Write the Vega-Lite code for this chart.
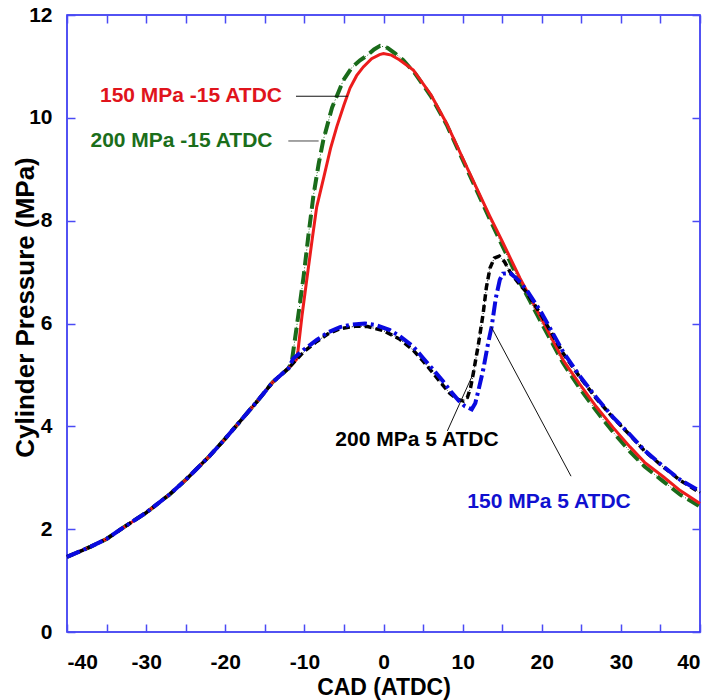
{
  "$schema": "https://vega.github.io/schema/vega-lite/v6.json",
  "width": 633,
  "height": 617,
  "autosize": {"type": "none"},
  "padding": {"left": 67, "top": 15, "right": 15, "bottom": 68},
  "background": "white",
  "config": {
    "view": {"stroke": "#1a1af0", "strokeWidth": 1.5},
    "font": "Liberation Sans",
    "axis": {
      "domain": false,
      "grid": false,
      "tickColor": "#4a4af5",
      "tickSize": -8,
      "tickWidth": 1.5,
      "labelFont": "Liberation Sans",
      "labelFontWeight": "bold",
      "labelFontSize": 21,
      "labelColor": "#000000",
      "titleFont": "Liberation Sans",
      "titleFontWeight": "bold",
      "titleFontSize": 23,
      "titleColor": "#000000"
    }
  },
  "datasets": {
    "curves": [
      {"series": "200 MPa -15 ATDC", "x": -40, "y": 1.46},
      {"series": "200 MPa -15 ATDC", "x": -37, "y": 1.66},
      {"series": "200 MPa -15 ATDC", "x": -35, "y": 1.81},
      {"series": "200 MPa -15 ATDC", "x": -33, "y": 2.02},
      {"series": "200 MPa -15 ATDC", "x": -30, "y": 2.32},
      {"series": "200 MPa -15 ATDC", "x": -27, "y": 2.68},
      {"series": "200 MPa -15 ATDC", "x": -25, "y": 2.96},
      {"series": "200 MPa -15 ATDC", "x": -22, "y": 3.42},
      {"series": "200 MPa -15 ATDC", "x": -20, "y": 3.76},
      {"series": "200 MPa -15 ATDC", "x": -18, "y": 4.12},
      {"series": "200 MPa -15 ATDC", "x": -16, "y": 4.48},
      {"series": "200 MPa -15 ATDC", "x": -14, "y": 4.86},
      {"series": "200 MPa -15 ATDC", "x": -12, "y": 5.13},
      {"series": "200 MPa -15 ATDC", "x": -11.6, "y": 5.25},
      {"series": "200 MPa -15 ATDC", "x": -11, "y": 5.9},
      {"series": "200 MPa -15 ATDC", "x": -10.1, "y": 6.91},
      {"series": "200 MPa -15 ATDC", "x": -9.5, "y": 7.7},
      {"series": "200 MPa -15 ATDC", "x": -8.87, "y": 8.47},
      {"series": "200 MPa -15 ATDC", "x": -8.2, "y": 9.1},
      {"series": "200 MPa -15 ATDC", "x": -7.6, "y": 9.57},
      {"series": "200 MPa -15 ATDC", "x": -6.5, "y": 10.2},
      {"series": "200 MPa -15 ATDC", "x": -5.08, "y": 10.73},
      {"series": "200 MPa -15 ATDC", "x": -4, "y": 10.98},
      {"series": "200 MPa -15 ATDC", "x": -2.97, "y": 11.12},
      {"series": "200 MPa -15 ATDC", "x": -2, "y": 11.22},
      {"series": "200 MPa -15 ATDC", "x": -1.2, "y": 11.33},
      {"series": "200 MPa -15 ATDC", "x": -0.44, "y": 11.4},
      {"series": "200 MPa -15 ATDC", "x": 0.5, "y": 11.36},
      {"series": "200 MPa -15 ATDC", "x": 1.5, "y": 11.25},
      {"series": "200 MPa -15 ATDC", "x": 2.5, "y": 11.12},
      {"series": "200 MPa -15 ATDC", "x": 4, "y": 10.86},
      {"series": "200 MPa -15 ATDC", "x": 6, "y": 10.42},
      {"series": "200 MPa -15 ATDC", "x": 8, "y": 9.86},
      {"series": "200 MPa -15 ATDC", "x": 10.5, "y": 9.02},
      {"series": "200 MPa -15 ATDC", "x": 13.46, "y": 8.02},
      {"series": "200 MPa -15 ATDC", "x": 15, "y": 7.52},
      {"series": "200 MPa -15 ATDC", "x": 17.25, "y": 6.8},
      {"series": "200 MPa -15 ATDC", "x": 18.5, "y": 6.44},
      {"series": "200 MPa -15 ATDC", "x": 20, "y": 6.0},
      {"series": "200 MPa -15 ATDC", "x": 22.7, "y": 5.23},
      {"series": "200 MPa -15 ATDC", "x": 24.8, "y": 4.74},
      {"series": "200 MPa -15 ATDC", "x": 26.9, "y": 4.3},
      {"series": "200 MPa -15 ATDC", "x": 29, "y": 3.89},
      {"series": "200 MPa -15 ATDC", "x": 31.15, "y": 3.51},
      {"series": "200 MPa -15 ATDC", "x": 33, "y": 3.22},
      {"series": "200 MPa -15 ATDC", "x": 35.36, "y": 2.93},
      {"series": "200 MPa -15 ATDC", "x": 37.5, "y": 2.67},
      {"series": "200 MPa -15 ATDC", "x": 40, "y": 2.44},

      {"series": "150 MPa -15 ATDC", "x": -40, "y": 1.46},
      {"series": "150 MPa -15 ATDC", "x": -37, "y": 1.66},
      {"series": "150 MPa -15 ATDC", "x": -35, "y": 1.81},
      {"series": "150 MPa -15 ATDC", "x": -33, "y": 2.02},
      {"series": "150 MPa -15 ATDC", "x": -30, "y": 2.32},
      {"series": "150 MPa -15 ATDC", "x": -27, "y": 2.68},
      {"series": "150 MPa -15 ATDC", "x": -25, "y": 2.96},
      {"series": "150 MPa -15 ATDC", "x": -22, "y": 3.42},
      {"series": "150 MPa -15 ATDC", "x": -20, "y": 3.76},
      {"series": "150 MPa -15 ATDC", "x": -18, "y": 4.12},
      {"series": "150 MPa -15 ATDC", "x": -16, "y": 4.48},
      {"series": "150 MPa -15 ATDC", "x": -14, "y": 4.86},
      {"series": "150 MPa -15 ATDC", "x": -12, "y": 5.13},
      {"series": "150 MPa -15 ATDC", "x": -11, "y": 5.3},
      {"series": "150 MPa -15 ATDC", "x": -10.8, "y": 5.48},
      {"series": "150 MPa -15 ATDC", "x": -10.3, "y": 6.15},
      {"series": "150 MPa -15 ATDC", "x": -9.7, "y": 6.85},
      {"series": "150 MPa -15 ATDC", "x": -9, "y": 7.65},
      {"series": "150 MPa -15 ATDC", "x": -8.44, "y": 8.27},
      {"series": "150 MPa -15 ATDC", "x": -7.52, "y": 8.86},
      {"series": "150 MPa -15 ATDC", "x": -6.7, "y": 9.4},
      {"series": "150 MPa -15 ATDC", "x": -5.9, "y": 9.83},
      {"series": "150 MPa -15 ATDC", "x": -5, "y": 10.25},
      {"series": "150 MPa -15 ATDC", "x": -4.23, "y": 10.58},
      {"series": "150 MPa -15 ATDC", "x": -3.4, "y": 10.82},
      {"series": "150 MPa -15 ATDC", "x": -2.55, "y": 10.99},
      {"series": "150 MPa -15 ATDC", "x": -1.5, "y": 11.15},
      {"series": "150 MPa -15 ATDC", "x": -0.5, "y": 11.23},
      {"series": "150 MPa -15 ATDC", "x": 0, "y": 11.25},
      {"series": "150 MPa -15 ATDC", "x": 1, "y": 11.22},
      {"series": "150 MPa -15 ATDC", "x": 2, "y": 11.13},
      {"series": "150 MPa -15 ATDC", "x": 3.77, "y": 10.93},
      {"series": "150 MPa -15 ATDC", "x": 6, "y": 10.45},
      {"series": "150 MPa -15 ATDC", "x": 7.98, "y": 9.89},
      {"series": "150 MPa -15 ATDC", "x": 10.5, "y": 9.05},
      {"series": "150 MPa -15 ATDC", "x": 13.46, "y": 8.08},
      {"series": "150 MPa -15 ATDC", "x": 15, "y": 7.6},
      {"series": "150 MPa -15 ATDC", "x": 17.25, "y": 6.88},
      {"series": "150 MPa -15 ATDC", "x": 18.5, "y": 6.52},
      {"series": "150 MPa -15 ATDC", "x": 20, "y": 6.08},
      {"series": "150 MPa -15 ATDC", "x": 22.7, "y": 5.29},
      {"series": "150 MPa -15 ATDC", "x": 24.8, "y": 4.82},
      {"series": "150 MPa -15 ATDC", "x": 26.9, "y": 4.38},
      {"series": "150 MPa -15 ATDC", "x": 29, "y": 3.98},
      {"series": "150 MPa -15 ATDC", "x": 31.15, "y": 3.6},
      {"series": "150 MPa -15 ATDC", "x": 33, "y": 3.3},
      {"series": "150 MPa -15 ATDC", "x": 35.36, "y": 3.02},
      {"series": "150 MPa -15 ATDC", "x": 37.5, "y": 2.75},
      {"series": "150 MPa -15 ATDC", "x": 40, "y": 2.5},

      {"series": "200 MPa 5 ATDC", "x": -40, "y": 1.46},
      {"series": "200 MPa 5 ATDC", "x": -37, "y": 1.66},
      {"series": "200 MPa 5 ATDC", "x": -35, "y": 1.81},
      {"series": "200 MPa 5 ATDC", "x": -33, "y": 2.02},
      {"series": "200 MPa 5 ATDC", "x": -30, "y": 2.32},
      {"series": "200 MPa 5 ATDC", "x": -27, "y": 2.68},
      {"series": "200 MPa 5 ATDC", "x": -25, "y": 2.96},
      {"series": "200 MPa 5 ATDC", "x": -22, "y": 3.42},
      {"series": "200 MPa 5 ATDC", "x": -20, "y": 3.76},
      {"series": "200 MPa 5 ATDC", "x": -18, "y": 4.12},
      {"series": "200 MPa 5 ATDC", "x": -16, "y": 4.48},
      {"series": "200 MPa 5 ATDC", "x": -14, "y": 4.86},
      {"series": "200 MPa 5 ATDC", "x": -12, "y": 5.13},
      {"series": "200 MPa 5 ATDC", "x": -11, "y": 5.3},
      {"series": "200 MPa 5 ATDC", "x": -10, "y": 5.46},
      {"series": "200 MPa 5 ATDC", "x": -8.44, "y": 5.65},
      {"series": "200 MPa 5 ATDC", "x": -7, "y": 5.8},
      {"series": "200 MPa 5 ATDC", "x": -5.5, "y": 5.9},
      {"series": "200 MPa 5 ATDC", "x": -3.4, "y": 5.95},
      {"series": "200 MPa 5 ATDC", "x": -2, "y": 5.94},
      {"series": "200 MPa 5 ATDC", "x": 0, "y": 5.86},
      {"series": "200 MPa 5 ATDC", "x": 2, "y": 5.7},
      {"series": "200 MPa 5 ATDC", "x": 3.77, "y": 5.48},
      {"series": "200 MPa 5 ATDC", "x": 5, "y": 5.27},
      {"series": "200 MPa 5 ATDC", "x": 6.3, "y": 5.03},
      {"series": "200 MPa 5 ATDC", "x": 7.5, "y": 4.8},
      {"series": "200 MPa 5 ATDC", "x": 8.4, "y": 4.64},
      {"series": "200 MPa 5 ATDC", "x": 9.3, "y": 4.53},
      {"series": "200 MPa 5 ATDC", "x": 10.1, "y": 4.49},
      {"series": "200 MPa 5 ATDC", "x": 10.6, "y": 4.56},
      {"series": "200 MPa 5 ATDC", "x": 11, "y": 4.75},
      {"series": "200 MPa 5 ATDC", "x": 11.35, "y": 5.03},
      {"series": "200 MPa 5 ATDC", "x": 12, "y": 5.6},
      {"series": "200 MPa 5 ATDC", "x": 12.6, "y": 6.2},
      {"series": "200 MPa 5 ATDC", "x": 13, "y": 6.7},
      {"series": "200 MPa 5 ATDC", "x": 13.46, "y": 7.08},
      {"series": "200 MPa 5 ATDC", "x": 14, "y": 7.27},
      {"series": "200 MPa 5 ATDC", "x": 14.64, "y": 7.31},
      {"series": "200 MPa 5 ATDC", "x": 15.3, "y": 7.2},
      {"series": "200 MPa 5 ATDC", "x": 16, "y": 7.0},
      {"series": "200 MPa 5 ATDC", "x": 17, "y": 6.8},
      {"series": "200 MPa 5 ATDC", "x": 18.1, "y": 6.6},
      {"series": "200 MPa 5 ATDC", "x": 20, "y": 6.15},
      {"series": "200 MPa 5 ATDC", "x": 22.7, "y": 5.42},
      {"series": "200 MPa 5 ATDC", "x": 24.8, "y": 4.96},
      {"series": "200 MPa 5 ATDC", "x": 26.9, "y": 4.54},
      {"series": "200 MPa 5 ATDC", "x": 29, "y": 4.17},
      {"series": "200 MPa 5 ATDC", "x": 31.15, "y": 3.83},
      {"series": "200 MPa 5 ATDC", "x": 33, "y": 3.52},
      {"series": "200 MPa 5 ATDC", "x": 35.36, "y": 3.21},
      {"series": "200 MPa 5 ATDC", "x": 37.5, "y": 2.95},
      {"series": "200 MPa 5 ATDC", "x": 40, "y": 2.71},

      {"series": "150 MPa 5 ATDC", "x": -40, "y": 1.46},
      {"series": "150 MPa 5 ATDC", "x": -37, "y": 1.66},
      {"series": "150 MPa 5 ATDC", "x": -35, "y": 1.81},
      {"series": "150 MPa 5 ATDC", "x": -33, "y": 2.02},
      {"series": "150 MPa 5 ATDC", "x": -30, "y": 2.32},
      {"series": "150 MPa 5 ATDC", "x": -27, "y": 2.68},
      {"series": "150 MPa 5 ATDC", "x": -25, "y": 2.96},
      {"series": "150 MPa 5 ATDC", "x": -22, "y": 3.42},
      {"series": "150 MPa 5 ATDC", "x": -20, "y": 3.76},
      {"series": "150 MPa 5 ATDC", "x": -18, "y": 4.12},
      {"series": "150 MPa 5 ATDC", "x": -16, "y": 4.48},
      {"series": "150 MPa 5 ATDC", "x": -14, "y": 4.86},
      {"series": "150 MPa 5 ATDC", "x": -12, "y": 5.13},
      {"series": "150 MPa 5 ATDC", "x": -11.4, "y": 5.32},
      {"series": "150 MPa 5 ATDC", "x": -10, "y": 5.5},
      {"series": "150 MPa 5 ATDC", "x": -8.44, "y": 5.68},
      {"series": "150 MPa 5 ATDC", "x": -7, "y": 5.83},
      {"series": "150 MPa 5 ATDC", "x": -5.5, "y": 5.93},
      {"series": "150 MPa 5 ATDC", "x": -4, "y": 5.98},
      {"series": "150 MPa 5 ATDC", "x": -2.34, "y": 6.0},
      {"series": "150 MPa 5 ATDC", "x": -1, "y": 5.97},
      {"series": "150 MPa 5 ATDC", "x": 0.82, "y": 5.87},
      {"series": "150 MPa 5 ATDC", "x": 2, "y": 5.76},
      {"series": "150 MPa 5 ATDC", "x": 3.77, "y": 5.55},
      {"series": "150 MPa 5 ATDC", "x": 5, "y": 5.33},
      {"series": "150 MPa 5 ATDC", "x": 6.3, "y": 5.1},
      {"series": "150 MPa 5 ATDC", "x": 7.5, "y": 4.88},
      {"series": "150 MPa 5 ATDC", "x": 8.6, "y": 4.66},
      {"series": "150 MPa 5 ATDC", "x": 9.5, "y": 4.5},
      {"series": "150 MPa 5 ATDC", "x": 10.3, "y": 4.39},
      {"series": "150 MPa 5 ATDC", "x": 11.15, "y": 4.33},
      {"series": "150 MPa 5 ATDC", "x": 11.6, "y": 4.45},
      {"series": "150 MPa 5 ATDC", "x": 12, "y": 4.7},
      {"series": "150 MPa 5 ATDC", "x": 12.6, "y": 5.1},
      {"series": "150 MPa 5 ATDC", "x": 13.2, "y": 5.6},
      {"series": "150 MPa 5 ATDC", "x": 13.67, "y": 5.94},
      {"series": "150 MPa 5 ATDC", "x": 14.2, "y": 6.5},
      {"series": "150 MPa 5 ATDC", "x": 14.7, "y": 6.85},
      {"series": "150 MPa 5 ATDC", "x": 15.1, "y": 6.97},
      {"series": "150 MPa 5 ATDC", "x": 16, "y": 6.98},
      {"series": "150 MPa 5 ATDC", "x": 17, "y": 6.85},
      {"series": "150 MPa 5 ATDC", "x": 18.1, "y": 6.65},
      {"series": "150 MPa 5 ATDC", "x": 20, "y": 6.2},
      {"series": "150 MPa 5 ATDC", "x": 22.7, "y": 5.45},
      {"series": "150 MPa 5 ATDC", "x": 24.8, "y": 4.98},
      {"series": "150 MPa 5 ATDC", "x": 26.9, "y": 4.56},
      {"series": "150 MPa 5 ATDC", "x": 29, "y": 4.18},
      {"series": "150 MPa 5 ATDC", "x": 31.15, "y": 3.84},
      {"series": "150 MPa 5 ATDC", "x": 33, "y": 3.53},
      {"series": "150 MPa 5 ATDC", "x": 35.36, "y": 3.22},
      {"series": "150 MPa 5 ATDC", "x": 37.5, "y": 2.96},
      {"series": "150 MPa 5 ATDC", "x": 40, "y": 2.74}
    ],
    "notes": [
      {"label": "150 MPa -15 ATDC", "x": -24.33, "y": 10.42},
      {"label": "200 MPa -15 ATDC", "x": -25.53, "y": 9.55},
      {"label": "200 MPa 5 ATDC", "x": 4.23, "y": 3.73},
      {"label": "150 MPa 5 ATDC", "x": 20.92, "y": 2.53}
    ],
    "leaders": [
      {"label": "150 MPa -15 ATDC", "x": -11.06, "y": 10.42, "x2": -4.5, "y2": 10.42},
      {"label": "200 MPa -15 ATDC", "x": -12.03, "y": 9.55, "x2": -8.2, "y2": 9.55},
      {"label": "200 MPa 5 ATDC", "x": 8.07, "y": 3.91, "x2": 11.44, "y2": 5.06},
      {"label": "150 MPa 5 ATDC", "x": 13.6, "y": 5.94, "x2": 23.7, "y2": 3.03}
    ]
  },
  "resolve": {"axis": {"x": "independent", "y": "independent"}},
  "layer": [
    {
      "data": {"name": "curves"},
      "transform": [{"filter": "datum.series == '200 MPa -15 ATDC'"}],
      "mark": {"type": "line", "color": "#1a6b1a", "strokeWidth": 4, "strokeDash": [13, 6]},
      "encoding": {
        "x": {"field": "x", "type": "quantitative", "scale": {"domain": [-40, 40], "nice": false},
          "axis": {"orient": "bottom", "title": "CAD (ATDC)", "values": [-40,-35,-30,-25,-20,-15,-10,-5,0,5,10,15,20,25,30,35,40],
            "labelExpr": "datum.value % 10 == 0 ? '' + datum.value : ''", "labelPadding": 27, "titlePadding": 4}},
        "y": {"field": "y", "type": "quantitative", "scale": {"domain": [0, 12], "nice": false},
          "axis": {"orient": "left", "title": "Cylinder Pressure (MPa)", "values": [0,2,4,6,8,10,12], "labelPadding": 23,
            "titleX": -29, "titleY": 292, "titleFontSize": 26}}
      }
    },
    {
      "data": {"name": "curves"},
      "transform": [{"filter": "datum.series == '200 MPa -15 ATDC'"}],
      "mark": {"type": "line", "color": "#1a6b1a", "strokeWidth": 1, "strokeDash": [1, 2]},
      "encoding": {
        "x": {"field": "x", "type": "quantitative", "axis": null},
        "y": {"field": "y", "type": "quantitative", "axis": null}
      }
    },
    {
      "data": {"name": "curves"},
      "transform": [{"filter": "datum.series == '150 MPa -15 ATDC'"}],
      "mark": {"type": "line", "color": "#ec1c1c", "strokeWidth": 3},
      "encoding": {
        "x": {"field": "x", "type": "quantitative",
          "axis": {"orient": "top", "title": null, "labels": false, "values": [-40,-35,-30,-25,-20,-15,-10,-5,0,5,10,15,20,25,30,35,40]}},
        "y": {"field": "y", "type": "quantitative",
          "axis": {"orient": "right", "title": null, "labels": false, "values": [0,2,4,6,8,10,12]}}
      }
    },
    {
      "data": {"name": "curves"},
      "transform": [{"filter": "datum.series == '200 MPa 5 ATDC'"}],
      "mark": {"type": "line", "color": "#000000", "strokeWidth": 3.5, "strokeDash": [7, 4]},
      "encoding": {
        "x": {"field": "x", "type": "quantitative", "axis": null},
        "y": {"field": "y", "type": "quantitative", "axis": null}
      }
    },
    {
      "data": {"name": "curves"},
      "transform": [{"filter": "datum.series == '200 MPa 5 ATDC'"}],
      "mark": {"type": "line", "color": "#000000", "strokeWidth": 1, "strokeDash": [1, 2]},
      "encoding": {
        "x": {"field": "x", "type": "quantitative", "axis": null},
        "y": {"field": "y", "type": "quantitative", "axis": null}
      }
    },
    {
      "data": {"name": "curves"},
      "transform": [{"filter": "datum.series == '150 MPa 5 ATDC'"}],
      "mark": {"type": "line", "color": "#0a0ae0", "strokeWidth": 4, "strokeDash": [14, 4, 3, 4]},
      "encoding": {
        "x": {"field": "x", "type": "quantitative", "axis": null},
        "y": {"field": "y", "type": "quantitative", "axis": null}
      }
    },
    {
      "data": {"name": "leaders"},
      "transform": [{"filter": "datum.label != '200 MPa -15 ATDC'"}],
      "mark": {"type": "rule", "color": "#111111", "strokeWidth": 1},
      "encoding": {
        "x": {"field": "x", "type": "quantitative", "axis": null},
        "y": {"field": "y", "type": "quantitative", "axis": null},
        "x2": {"field": "x2"},
        "y2": {"field": "y2"}
      }
    },
    {
      "data": {"name": "leaders"},
      "transform": [{"filter": "datum.label == '200 MPa -15 ATDC'"}],
      "mark": {"type": "rule", "color": "#666666", "strokeWidth": 1.2},
      "encoding": {
        "x": {"field": "x", "type": "quantitative", "axis": null},
        "y": {"field": "y", "type": "quantitative", "axis": null},
        "x2": {"field": "x2"},
        "y2": {"field": "y2"}
      }
    },
    {
      "data": {"name": "notes"},
      "mark": {"type": "text", "font": "Liberation Sans", "fontWeight": "bold", "fontSize": 21, "align": "center", "baseline": "middle"},
      "encoding": {
        "x": {"field": "x", "type": "quantitative", "axis": null},
        "y": {"field": "y", "type": "quantitative", "axis": null},
        "text": {"field": "label"},
        "color": {"field": "label", "type": "nominal", "legend": null,
          "scale": {"domain": ["150 MPa -15 ATDC", "200 MPa -15 ATDC", "200 MPa 5 ATDC", "150 MPa 5 ATDC"],
                    "range": ["#e0141c", "#1b6e1b", "#000000", "#1010d0"]}}
      }
    }
  ]
}
